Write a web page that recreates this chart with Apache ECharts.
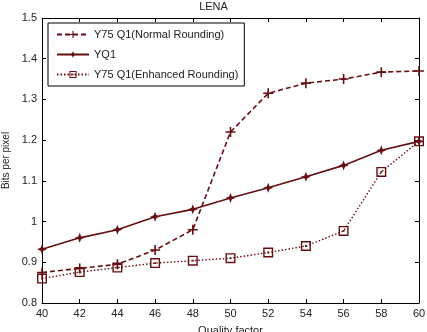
<!DOCTYPE html>
<html>
<head>
<meta charset="utf-8">
<script src="https://cdn.jsdelivr.net/npm/echarts@6/dist/echarts.min.js"></script>
<style>
html,body{margin:0;padding:0;background:#fff;}
#main{width:427px;height:332px;}
</style>
</head>
<body>
<div id="main"></div>
<script>
var quality = [40, 42, 44, 46, 48, 50, 52, 54, 56, 58, 60];
var normalRounding = [0.875, 0.885, 0.895, 0.93, 0.98, 1.22, 1.315, 1.34, 1.35, 1.367, 1.37];
var yq1 = [0.932, 0.96, 0.98, 1.012, 1.03, 1.058, 1.083, 1.11, 1.138, 1.175, 1.197];
var enhancedRounding = [0.86, 0.876, 0.887, 0.898, 0.904, 0.91, 0.924, 0.94, 0.977, 1.122, 1.197];

var red = '#650f12';
var fnt = 'Liberation Sans, Arial, sans-serif';

function pairs(vals) {
	var out = [];
	for (var i = 0; i < quality.length; i++) {
		out.push([quality[i], vals[i]]);
	}
	return out;
}

var plusPath = 'path://M-0.8,-5L0.8,-5L0.8,-0.8L5,-0.8L5,0.8L0.8,0.8L0.8,5L-0.8,5L-0.8,0.8L-5,0.8L-5,-0.8L-0.8,-0.8Z';
var starPath = 'path://M0,-5L1.4,-1.4L5,0L1.4,1.4L0,5L-1.4,1.4L-5,0L-1.4,-1.4Z';
var boxPath = 'path://M-5,-5H5V5H-5Z M-3.6,-3.6V3.6H3.6V-3.6Z M-0.9,-0.9H0.9V0.9H-0.9Z';

var chart = echarts.init(document.getElementById('main'));

var axisCommon = {
	axisLine: {show: true, lineStyle: {color: '#000', width: 1}},
	axisTick: {show: true, inside: true, length: 4, lineStyle: {color: '#000'}},
	splitLine: {show: false}
};

var option = {
	backgroundColor: '#fff',
	animation: false,
	title: {
		text: 'LENA',
		left: 'center',
		top: -4,
		textStyle: {fontFamily: fnt, fontSize: 11, fontWeight: 'normal', color: '#222'}
	},
	grid: {left: 42, right: 8, top: 18, bottom: 29, outerBoundsMode: 'none', containLabel: false},
	legend: {
		orient: 'vertical',
		left: 48,
		top: 23,
		backgroundColor: '#fff',
		borderColor: '#000',
		borderWidth: 1,
		borderRadius: 0,
		padding: [6, 6, 6, 8],
		itemGap: 9,
		itemWidth: 32,
		itemHeight: 9,
		textStyle: {fontFamily: fnt, fontSize: 11, color: '#222'},
		data: ['Y75 Q1(Normal Rounding)', 'YQ1', 'Y75 Q1(Enhanced Rounding)']
	},
	xAxis: [Object.assign({
		type: 'value',
		min: 40, max: 60, interval: 2,
		name: 'Quality factor',
		nameLocation: 'middle',
		nameGap: 22,
		nameTextStyle: {fontFamily: fnt, fontSize: 11, color: '#222'},
		axisLabel: {fontFamily: fnt, fontSize: 11, color: '#222', margin: 5}
	}, axisCommon), Object.assign({
		type: 'value', position: 'top',
		min: 40, max: 60, interval: 2,
		axisLabel: {show: false}
	}, axisCommon)],
	yAxis: [Object.assign({
		type: 'value',
		min: 0.8, max: 1.5, interval: 0.1,
		name: 'Bits per pixel',
		nameLocation: 'middle',
		nameRotate: 90,
		nameGap: 26,
		nameTextStyle: {fontFamily: fnt, fontSize: 10, color: '#222'},
		axisLabel: {fontFamily: fnt, fontSize: 11, color: '#222', margin: 5}
	}, axisCommon), Object.assign({
		type: 'value', position: 'right',
		min: 0.8, max: 1.5, interval: 0.1,
		axisLabel: {show: false}
	}, axisCommon)],
	series: [
		{
			name: 'Y75 Q1(Normal Rounding)',
			type: 'line',
			data: pairs(normalRounding),
			symbol: plusPath,
			symbolSize: 10,
			itemStyle: {color: red},
			lineStyle: {color: red, width: 1.6, type: [5, 3]},
			z: 3
		},
		{
			name: 'YQ1',
			type: 'line',
			data: pairs(yq1),
			symbol: starPath,
			symbolSize: 10,
			itemStyle: {color: red},
			lineStyle: {color: red, width: 1.6, type: 'solid'},
			z: 4
		},
		{
			name: 'Y75 Q1(Enhanced Rounding)',
			type: 'line',
			data: pairs(enhancedRounding),
			symbol: boxPath,
			symbolSize: 10,
			itemStyle: {color: red},
			lineStyle: {color: red, width: 1.4, type: [1.5, 2]},
			z: 2
		}
	]
};

chart.setOption(option);
</script>
</body>
</html>
